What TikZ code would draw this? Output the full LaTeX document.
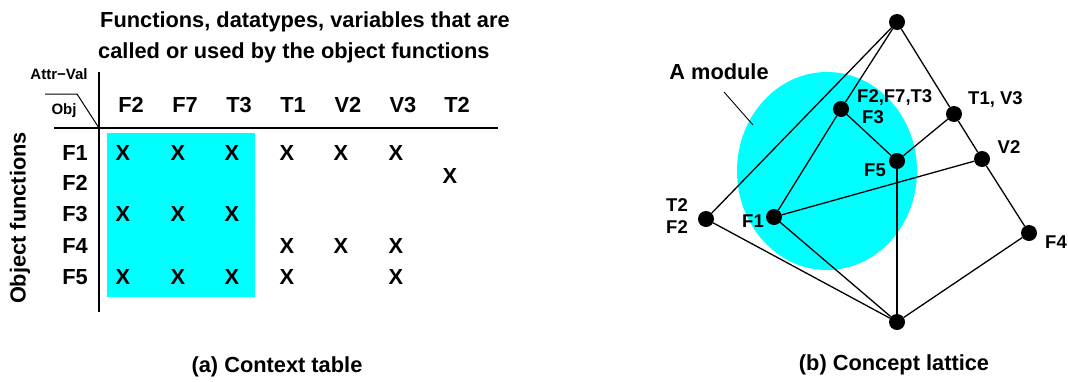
\documentclass[tikz,border=0pt]{standalone}
\usepackage{fontspec}
\setmainfont{Liberation Sans}
\definecolor{modcyan}{RGB}{0,255,255}

\begin{document}
\begin{tikzpicture}[x=1pt, y=-1pt, font=\bfseries\fontsize{21.8}{24}\selectfont,
  dot/.style={circle, fill=black, inner sep=0pt, minimum size=16pt},
  lbl/.style={font=\bfseries\fontsize{18.5}{20}\selectfont, inner sep=0pt},
  small/.style={font=\bfseries\fontsize{15}{16}\selectfont, inner sep=0pt},
  edge/.style={line width=1.3pt}]
\useasboundingbox (0,0) rectangle (1068,381);

% (a) context table
\fill[modcyan] (107,133) rectangle (255,297);
\coordinate (vtop) at (99,72); \coordinate (vbot) at (99,312);
\coordinate (hleft) at (54,128); \coordinate (hright) at (498,128);
\coordinate (corner) at (99,128);
\coordinate (slashA) at (45,94); \coordinate (slashB) at (77,94);
\draw[line width=1.6pt] (vtop) -- (vbot);
\draw[line width=1.6pt] (hleft) -- (hright);
\draw[line width=1pt] (slashA) -- (slashB) -- (corner);
\node[anchor=base west, inner sep=0pt] (title1) at (100,27) {Functions, datatypes, variables that are};
\node[anchor=base west, inner sep=0pt] (title2) at (98,58) {called or used by the object functions};
\node[small] (attr) at (59,74) {Attr−Val};
\node[small] (obj) at (64,111) {Obj};
\node[rotate=90] (objfun) at (20,218) {Object functions};
\foreach \name/\x in {F2/131, F7/185, T3/239, T1/293, V2/348, V3/403, T2/457}
  \node (h\name) at (\x,105) {\name};
\foreach \name/\y in {F1/153, F2/183, F3/214, F4/246, F5/277}
  \node (r\name) at (75,\y) {\name};
\foreach \x/\y [count=\i] in {123/153, 178/153, 232/153, 287/153, 341/153, 396/153,
    450/176,
    123/214, 178/214, 232/214,
    287/246, 341/246, 396/246,
    123/277, 178/277, 232/277, 287/277, 396/277}
  \node (x\i) at (\x,\y) {X};
\node (capa) at (277,367) {(a) Context table};

% (b) concept lattice
\fill[modcyan] (827,171) ellipse [x radius=90pt, y radius=99pt];
\node[dot] (top) at (897,22) {};
\node[dot] (fft) at (841,109) {};
\node[dot] (tv) at (954,114) {};
\node[dot] (vtwo) at (982,159) {};
\node[dot] (ffive) at (897,161) {};
\node[dot] (ttwo) at (706,219) {};
\node[dot] (fone) at (774,217) {};
\node[dot] (ffour) at (1029,233) {};
\node[dot] (bot) at (897,322) {};
\draw[edge] (top) -- (ttwo);
\draw[edge] (top) -- (fft);
\draw[edge] (top) -- (tv) -- (vtwo) -- (ffour);
\draw[edge] (tv) -- (ffive);
\draw[edge] (fft) -- (ffive);
\draw[edge] (fft) -- (fone);
\draw[edge] (fone) -- (vtwo);
\draw[edge] (ffive) -- (bot);
\draw[edge] (fone) -- (bot);
\draw[edge] (ttwo) -- (bot);
\draw[edge] (ffour) -- (bot);
\node (amod) at (719,72) {A module};
\coordinate (ptrA) at (724,92); \coordinate (ptrB) at (753,125);
\draw[line width=0.9pt] (ptrA) -- (ptrB);
\node[lbl, anchor=west] (lfft) at (857,97) {F2,F7,T3};
\node[lbl, anchor=west] (lfthree) at (862,117) {F3};
\node[lbl, anchor=west] (ltv) at (968,99) {T1, V3};
\node[lbl] (lvtwo) at (1009,147) {V2};
\node[lbl] (lffive) at (875,170) {F5};
\node[lbl] (lttwo) at (677,205) {T2};
\node[lbl] (lftwo) at (677,227) {F2};
\node[lbl] (lfone) at (753,221) {F1};
\node[lbl] (lffour) at (1056,242) {F4};
\node (capb) at (894,365) {(b) Concept lattice};
\end{tikzpicture}
\end{document}
